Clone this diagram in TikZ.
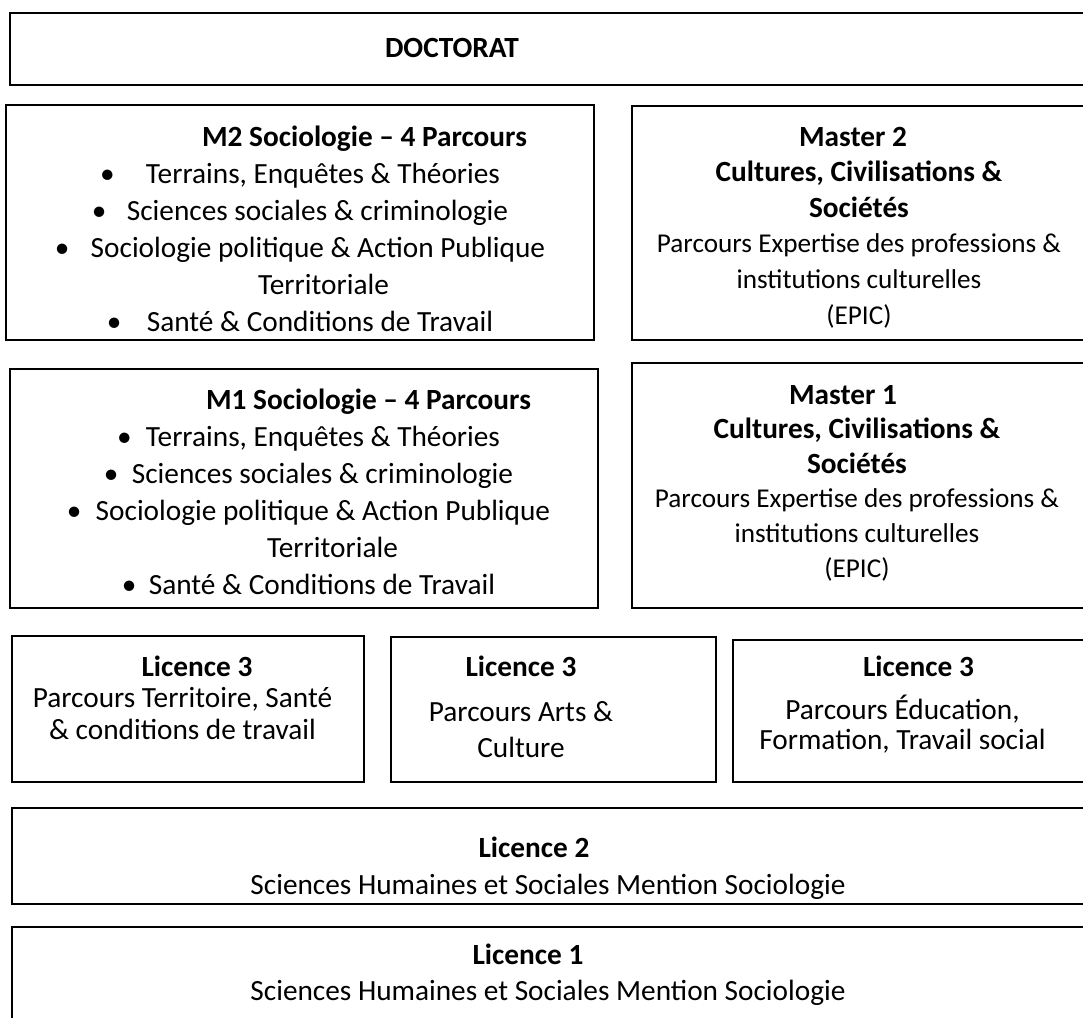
\documentclass[tikz,border=0pt]{standalone}
\usepackage{fontspec}
\setmainfont{Carlito}
\usepackage{tikz}
\newcommand{\taille}[1]{\fontsize{14.65pt}{#1}\selectfont}
\newcommand{\petit}{\fontsize{13.6pt}{17pt}\selectfont}
\newcommand{\puce}[1]{\makebox[#1][l]{\textbullet}}

\begin{document}
\begin{tikzpicture}[x=0.5pt,y=-0.5pt,
    cadre/.style={line width=1pt},
    texte/.style={align=center,anchor=base,inner sep=0pt}]
    %CADRE
    \useasboundingbox (0,0) rectangle (1083,1018);
    %DOCTORAT
    \draw[cadre] (10,13) rectangle (1090,85);
    \node[texte,font=\taille{18pt}] (doc) at (452,57.5) {\textbf{DOCTORAT}};
    %M2 SOCIOLOGIE
    \draw[cadre] (6,105) rectangle (594,340);
    \node[texte,font=\taille{18.5pt}] (m2) at (300,331) {\hspace*{64.5pt}\textbf{M2 Sociologie – 4 Parcours}\\
        \puce{23pt}Terrains, Enquêtes \& Théories\\
        \puce{17.5pt}Sciences sociales \& criminologie\\
        \puce{18pt}Sociologie politique \& Action Publique\\
        \hspace*{23.5pt}Territoriale\\
        \puce{20pt}Santé \& Conditions de Travail};
    %MASTER 2
    \draw[cadre] (632,106) rectangle (1090,340);
    \node[texte,font=\taille{17.8pt}] (ma2) at (859,324) {\textbf{Master 2}\hspace*{6pt}\\
        \textbf{Cultures, Civilisations \&}\\
        \textbf{Sociétés}\\
        \petit Parcours Expertise des professions \&\\
        \petit institutions culturelles\\
        \petit (EPIC)};
    %M1 SOCIOLOGIE
    \draw[cadre] (10,369) rectangle (598,608);
    \node[texte,font=\taille{18.5pt}] (m1) at (308.5,594) {\hspace*{60pt}\textbf{M1 Sociologie – 4 Parcours}\\
        \puce{14.5pt}Terrains, Enquêtes \& Théories\\
        \puce{14pt}Sciences sociales \& criminologie\\
        \puce{14.5pt}Sociologie politique \& Action Publique\\
        \hspace*{24pt}Territoriale\\
        \puce{13.5pt}Santé \& Conditions de Travail};
    %MASTER 1
    \draw[cadre] (632,363) rectangle (1090,608);
    \node[texte,font=\taille{17.3pt}] (ma1) at (857,577) {\textbf{Master 1}\hspace*{14pt}\\
        \textbf{Cultures, Civilisations \&}\\
        \textbf{Sociétés}\\
        \petit Parcours Expertise des professions \&\\
        \petit institutions culturelles\\
        \petit (EPIC)};
    %LICENCE 3
    \draw[cadre] (12,636) rectangle (364,782);
    \node[texte,font=\taille{15.75pt}] (l3a) at (182.5,739) {\hspace*{14.5pt}\textbf{Licence 3}\\
        Parcours Territoire, Santé\\
        \& conditions de travail};
    \draw[cadre] (391,637) rectangle (716,782);
    \node[texte,font=\taille{18pt}] (l3b) at (521,757) {\textbf{Licence 3}\\[4.5pt]Parcours Arts \&\\
        Culture};
    \draw[cadre] (733,640) rectangle (1090,782);
    \node[texte,font=\taille{15pt}] (l3c) at (902.5,749) {\hspace*{16pt}\textbf{Licence 3}\\[6.5pt]Parcours Éducation,\\
        Formation, Travail social};
    %LICENCE 2
    \draw[cadre] (12,808) rectangle (1090,904);
    \node[texte,font=\taille{18.5pt}] (l2) at (548,894) {\textbf{Licence 2}\hspace*{14pt}\\
        Sciences Humaines et Sociales Mention Sociologie};
    %LICENCE 1
    \draw[cadre] (12,927) rectangle (1090,1040);
    \node[texte,font=\taille{18pt}] (l1) at (548,1000) {\textbf{Licence 1}\hspace*{20pt}\\
        Sciences Humaines et Sociales Mention Sociologie};
\end{tikzpicture}
\end{document}
